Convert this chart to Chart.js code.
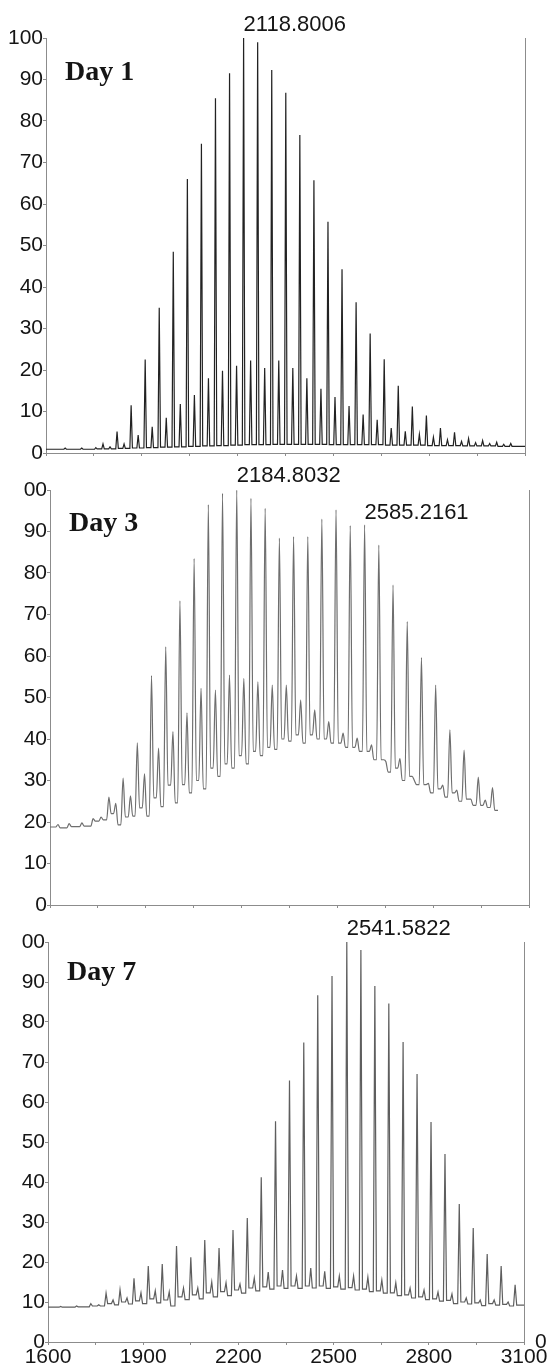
<!DOCTYPE html>
<html>
<head>
<meta charset="utf-8">
<script src="https://cdn.jsdelivr.net/npm/chart.js@4.4.1/dist/chart.umd.min.js"></script>
<style>
  body { margin: 0; background: #fff; }
  #wrap { position: relative; width: 551px; height: 1368px; overflow: hidden; background: #fff; }
  canvas { position: absolute; left: 0; }
</style>
</head>
<body>
<div id="wrap">
  <canvas id="day1" width="551" height="470" style="top:0"></canvas>
  <canvas id="day3" width="551" height="465" style="top:460px"></canvas>
  <canvas id="day7" width="551" height="453" style="top:915px"></canvas>
</div>
<script>
// --- Day 1: peak m/z, peak intensity, valley level before/after each peak ---
const day1Mz = [1560, 1612, 1656, 1678.5, 1700.5, 1722.5, 1744.5, 1766.6, 1788.6, 1810.6, 1832.6,
  1854.6, 1876.6, 1898.6, 1920.6, 1942.7, 1964.7, 1986.7, 2008.7, 2030.7, 2052.7, 2074.8, 2096.8,
  2118.8, 2140.8, 2162.8, 2184.8, 2206.9, 2228.9, 2250.9, 2272.9, 2294.9, 2316.9, 2339.0, 2361.0,
  2383.0, 2405.0, 2427.0, 2449.0, 2471.1, 2493.1, 2515.1, 2537.1, 2559.1, 2581.1, 2603.1, 2625.1,
  2647.2, 2669.2, 2691.2, 2713.2, 2735.2, 2757.2, 2779.3, 2801.3, 2823.3, 2845.3, 2867.3, 2889.3,
  2911.4, 2933.4, 2955.4];
const day1Height = [1.2, 1.2, 1.3, 2.2, 1.5, 5.2, 2.2, 11.5, 4.3, 22.5, 6.3, 35, 8.5, 48.5, 11.8,
  66, 14, 74.5, 18, 85.5, 19.8, 91.5, 21, 100, 22.3, 99, 20.5, 92.3, 22.3, 86.8, 20.5, 76.6, 18,
  65.7, 15.5, 55.7, 13.5, 44.3, 11.3, 36.3, 9.3, 28.8, 8, 22.6, 6, 16.2, 5.2, 11.2, 4.5, 9, 3.8,
  6, 3.2, 5, 2.8, 3.5, 2.5, 3, 2.3, 2.6, 2.1, 2.3];
const day1Valley = [0.9, 0.9, 0.9, 1.0, 1.0, 1.0, 1.1, 1.1, 1.2, 1.2, 1.3, 1.3, 1.4, 1.4, 1.5, 1.5,
  1.6, 1.6, 1.7, 1.7, 1.8, 1.8, 1.9, 1.9, 2.0, 2.0, 2.0, 2.0, 2.1, 2.1, 2.1, 2.1, 2.1, 2.1, 2.1,
  2.1, 2.0, 2.0, 2.0, 2.0, 2.0, 2.0, 2.0, 2.0, 1.9, 1.9, 1.9, 1.9, 1.9, 1.9, 1.8, 1.8, 1.8, 1.8,
  1.8, 1.7, 1.7, 1.7, 1.7, 1.7, 1.6, 1.6, 1.6];

// --- Day 3 ---
const day3Mz = [1625, 1660, 1700, 1735, 1760, 1784.4, 1806, 1828.9, 1852, 1873.4, 1896, 1917.9,
  1940, 1962.4, 1985, 2006.9, 2029, 2051.3, 2073, 2095.8, 2118, 2140.3, 2162, 2184.8, 2207, 2229.3,
  2251, 2273.8, 2296, 2318.3, 2340, 2362.8, 2385, 2407.3, 2429, 2451.3, 2473, 2495.7, 2518, 2540.2,
  2562, 2585.2, 2607, 2629.7, 2652, 2674.2, 2696, 2718.7, 2741, 2763.2, 2785, 2807.7, 2830, 2852.2,
  2874, 2896.7, 2918, 2941.2, 2963, 2985.7];
const day3Height = [19.4, 19.6, 19.8, 20.8, 21.2, 26, 24.5, 30.6, 26.3, 39.1, 31.6, 55.3, 37.8,
  62.2, 41.8, 73.3, 46.3, 83.5, 52.2, 96.5, 51.8, 99.2, 55.4, 100, 54.6, 98, 53.8, 95.6, 53, 88.4,
  53, 88.8, 49.4, 88.8, 47, 93, 44.2, 95.2, 41.4, 91.4, 40.2, 91.6, 38.6, 86.7, 34.5, 77.1, 35.3,
  68.3, 30, 59.6, 29.3, 53, 28.9, 42.2, 27.7, 37.3, 25.5, 30.8, 25.3, 28.3];
const day3Valley = [18.8, 18.6, 18.9, 19.0, 20.2, 20.5, 22, 19.3, 21.2, 21.4, 23.4, 21.4, 25.8,
  23.7, 28.9, 24.6, 29, 27, 30, 28, 33, 31, 34, 33, 36, 34, 37, 36, 38, 37.5, 40, 39.5, 41, 39, 41,
  40, 40, 39, 39, 38, 38, 37, 37, 35, 35, 32, 33, 30, 31, 29, 29, 27, 28, 26, 27, 25, 25.5, 24, 24,
  23.5, 22.8];

// --- Day 7 ---
const day7Mz = [1640, 1690, 1735, 1760, 1783, 1805, 1827, 1849, 1871, 1893, 1916, 1938, 1960, 1982,
  2005, 2027, 2050, 2072, 2094, 2116, 2139, 2161, 2183, 2205, 2228, 2250, 2272, 2294, 2317, 2339,
  2361, 2383, 2406, 2428, 2450, 2472, 2495, 2518, 2541.6, 2563, 2586, 2608, 2630, 2652, 2674, 2696,
  2719, 2741, 2763, 2785, 2807, 2829, 2851, 2873, 2896, 2918, 2940, 2962, 2984, 3006, 3028, 3050,
  3072];
const day7Height = [8.9, 9.0, 9.6, 9.3, 12.2, 10.5, 13.1, 11, 15.9, 12.3, 19, 12.8, 19.5, 12.5,
  24, 13.5, 21.2, 13.5, 25.5, 15, 23.5, 14.8, 28, 14.5, 31, 16, 41.2, 17.5, 55.2, 18, 65.4, 16.5,
  74.9, 18.5, 86.7, 17.7, 91.5, 16.5, 100, 16.5, 98, 16.2, 89, 15.5, 84.6, 14.8, 75, 13.5, 67, 13,
  55, 12.5, 47, 12, 34.5, 11, 28.5, 10.5, 22, 10.5, 19, 10, 14.3];
const day7Valley = [8.7, 8.7, 8.8, 9.0, 9.0, 9.6, 9.3, 10, 9.5, 10.3, 9.6, 10.8, 9.8, 10.5, 9, 11.3,
  10.6, 11.8, 10.8, 12.3, 11.3, 12.6, 11.6, 13, 12.2, 13.5, 12.8, 13.8, 13.2, 14, 13.4, 14, 13.4, 14,
  13.5, 14, 13.4, 13.8, 13.2, 13.6, 13, 13.2, 12.6, 12.8, 12.2, 12.3, 11.6, 11.8, 11, 11.3, 10.6,
  10.8, 10.2, 10.4, 9.6, 10, 9.5, 9.8, 9.1, 9.6, 9.2, 9.4, 9.0, 9.2];

// peak labels
const day1LabelMz = [2118.8006];
const day1Labels = ['2118.8006'];
const day1LabelY = [103.1];
const day3LabelMz = [2184.8032, 2585.2161];
const day3Labels = ['2184.8032', '2585.2161'];
const day3LabelY = [103.4, 94.5];
const day7LabelMz = [2541.5822];
const day7Labels = ['2541.5822'];
const day7LabelY = [103.2];

const yTicks = [0, 10, 20, 30, 40, 50, 60, 70, 80, 90, 100];

const AXIS = '#8c8c8c';
const INK = '#151515';
Chart.defaults.font.family = "'Liberation Sans', Arial, sans-serif";

// each peak: rises from the previous valley, falls to the next one
function tracePoints(mz, height, valley, xStart, xEnd, w) {
    const pts = [{ x: xStart, y: valley[0] }];
    mz.forEach((m, i) => {
        pts.push({ x: m - w, y: valley[i] }, { x: m, y: height[i] }, { x: m + w, y: valley[i + 1] });
    });
    pts.push({ x: xEnd, y: valley[valley.length - 1] });
    return pts;
}

const annotate = {
    id: 'annotate',
    afterDraw(chart, args, opts) {
        const { ctx, chartArea, scales: { x, y } } = chart;
        ctx.save();
        ctx.fillStyle = INK;
        ctx.font = 'bold 28px "Liberation Serif", "Times New Roman", serif';
        ctx.textAlign = 'left';
        ctx.textBaseline = 'alphabetic';
        ctx.fillText(opts.day, chartArea.left + 19, chartArea.top + opts.dayDy);
        ctx.font = '22px "Liberation Sans", Arial, sans-serif';
        ctx.textBaseline = 'middle';
        opts.labels.forEach((t, i) => {
            ctx.fillText(t, x.getPixelForValue(opts.labelMz[i]), y.getPixelForValue(opts.labelY[i]));
        });
        ctx.restore();
    }
};

function makeSpectrum(id, cfg) {
    const ctx = document.getElementById(id).getContext('2d');
    new Chart(ctx, {
        type: 'line',
        data: {
            datasets: [{
                data: tracePoints(cfg.mz, cfg.height, cfg.valley, cfg.xMin, cfg.xEnd, cfg.w),
                borderColor: cfg.color,
                borderWidth: 1.2,
                pointRadius: 0,
                tension: cfg.smooth ? 0.4 : 0,
                cubicInterpolationMode: cfg.smooth ? 'monotone' : 'default',
                fill: false
            }]
        },
        options: {
            responsive: false,
            animation: false,
            devicePixelRatio: 1,
            layout: { padding: cfg.padding },
            plugins: {
                legend: { display: false },
                tooltip: { enabled: false },
                annotate: { day: cfg.day, dayDy: cfg.dayDy, labels: cfg.labels, labelMz: cfg.labelMz, labelY: cfg.labelY }
            },
            scales: {
                x: {
                    type: 'linear', min: cfg.xMin, max: cfg.xMax,
                    afterFit: s => { s.height = cfg.xHeight; },
                    border: { color: AXIS, width: 1 },
                    grid: { drawOnChartArea: false, tickLength: 3, color: AXIS },
                    ticks: {
                        display: cfg.showX, stepSize: 150, autoSkip: false, maxRotation: 0, padding: 0,
                        color: INK, font: { size: 21 },
                        callback: v => (v % 300 === 100 ? String(v) : '')
                    }
                },
                y: {
                    min: 0, max: 100,
                    afterFit: s => { s.width = cfg.yWidth; },
                    afterBuildTicks: s => { s.ticks = yTicks.map(v => ({ value: v })); },
                    border: { color: AXIS, width: 1 },
                    grid: { drawOnChartArea: false, tickLength: 3, color: AXIS },
                    ticks: {
                        padding: 0, color: INK, font: { size: 21 },
                        callback: v => (v === 100 ? cfg.topLabel : String(v))
                    }
                },
                y2: {
                    position: 'right', min: 0, max: 100,
                    afterFit: s => { s.width = cfg.rightWidth; },
                    afterBuildTicks: s => { s.ticks = [{ value: 0 }]; },
                    border: { color: AXIS, width: 1 },
                    grid: { display: false },
                    ticks: { display: cfg.rightZero, padding: 3, color: INK, font: { size: 21 }, callback: () => '0' }
                }
            }
        },
        plugins: [annotate]
    });
}

makeSpectrum('day1', {
    mz: day1Mz, height: day1Height, valley: day1Valley, w: 4, smooth: false,
    xMin: 1500, xMax: 3000, xEnd: 3000, color: '#222222',
    padding: { left: 0, right: 0, top: 38, bottom: 13 }, xHeight: 4, yWidth: 46, rightWidth: 26,
    showX: false, rightZero: false, topLabel: '100',
    day: 'Day 1', dayDy: 42, labels: day1Labels, labelMz: day1LabelMz, labelY: day1LabelY
});

makeSpectrum('day3', {
    mz: day3Mz, height: day3Height, valley: day3Valley, w: 7, smooth: true,
    xMin: 1600, xMax: 3100, xEnd: 3003, color: '#6e6e6e',
    padding: { left: 0, right: 0, top: 30, bottom: 16 }, xHeight: 4, yWidth: 50, rightWidth: 22,
    showX: false, rightZero: false, topLabel: '00',
    day: 'Day 3', dayDy: 41, labels: day3Labels, labelMz: day3LabelMz, labelY: day3LabelY
});

makeSpectrum('day7', {
    mz: day7Mz, height: day7Height, valley: day7Valley, w: 5, smooth: false,
    xMin: 1600, xMax: 3100, xEnd: 3100, color: '#5e5e5e',
    padding: { left: 0, right: 0, top: 27, bottom: 0 }, xHeight: 26, yWidth: 48, rightWidth: 27,
    showX: true, rightZero: true, topLabel: '00',
    day: 'Day 7', dayDy: 38, labels: day7Labels, labelMz: day7LabelMz, labelY: day7LabelY
});
</script>
</body>
</html>
